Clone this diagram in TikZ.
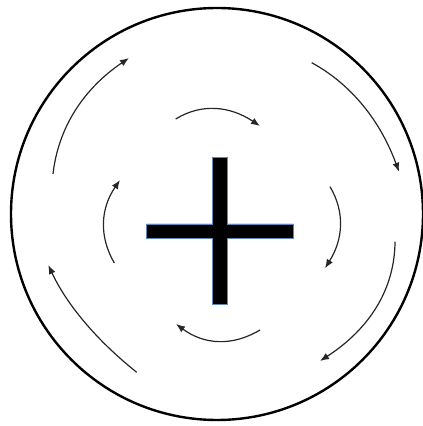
\documentclass[tikz,border=0pt]{standalone}
\usetikzlibrary{arrows.meta}
\definecolor{barline}{RGB}{95,135,185}
\begin{document}
\begin{tikzpicture}[x=1pt,y=1pt,
  flow/.style={draw=black!85, line width=1.2pt, -{Latex[length=9pt,width=7pt]}},
  rim/.style={draw=black, line width=2.4pt},
  crossbar/.style={fill=black, draw=barline, line width=0.7pt}]
\useasboundingbox (0,0) rectangle (423,426);
% outer circle
\coordinate (c) at (217,212);
\draw[rim] (c) circle (206);
% cross
\draw[crossbar] (212.7,122) -- (227.3,122) -- (227.3,187.7) -- (293.3,187.7) -- (293.3,202)
  -- (227.3,202) -- (227.3,268.7) -- (212.7,268.7) -- (212.7,202) -- (146.7,202)
  -- (146.7,187.7) -- (212.7,187.7) -- cycle;
% outer arcs
\draw[flow] (53,252) .. controls (58.3,298.7) and (83.7,337.3) .. (129,368);
\draw[flow] (311.7,363.3) .. controls (351.0,341.9) and (380.1,305.6) .. (399,254.3);
\draw[flow] (395,184.3) .. controls (394.7,137.0) and (369.7,97.2) .. (320,65);
\draw[flow] (136.7,53.7) .. controls (95.9,86.3) and (66.4,122.1) .. (48.3,161);
% inner arcs
\draw[flow] (175.7,307) .. controls (201.3,322.7) and (229.4,320.3) .. (260,300);
\draw[flow] (330,239.3) .. controls (345,214.1) and (343.3,186.9) .. (325,157.7);
\draw[flow] (260,96) .. controls (232,79.3) and (204,81.3) .. (176,102);
\draw[flow] (114.3,163) .. controls (98.7,190) and (100.6,217.7) .. (120,246);
\end{tikzpicture}
\end{document}
